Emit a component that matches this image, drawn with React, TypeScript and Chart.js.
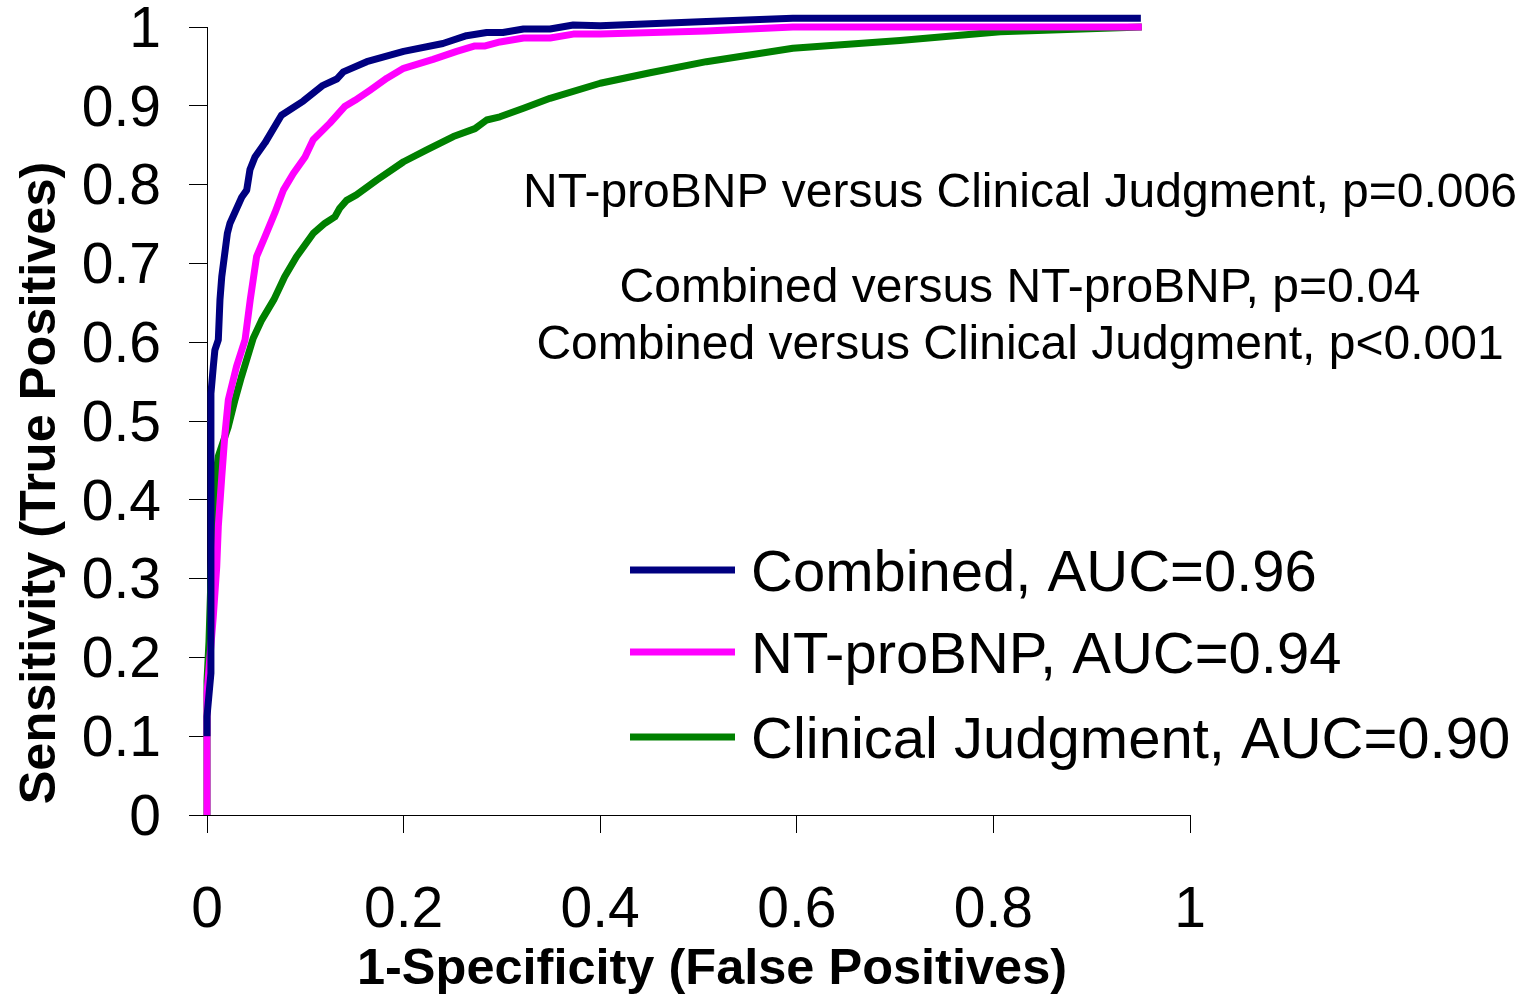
import React, { useEffect, useRef } from "react";
import { Chart, registerables } from "chart.js";

Chart.register(...registerables);

// ---- data ----
const seriesLabels = [
  "Combined, AUC=0.96",
  "NT-proBNP, AUC=0.94",
  "Clinical Judgment, AUC=0.90",
];
const seriesColors = ["#000080", "#FF00FF", "#008000"];

const combinedFpr = [0, 0, 0.004, 0.004, 0.0064, 0.008, 0.0115, 0.0132, 0.015, 0.0207, 0.0234, 0.0353, 0.0404, 0.0437, 0.0488, 0.059, 0.0757, 0.0979, 0.118, 0.132, 0.1387, 0.1625, 0.2, 0.24, 0.264, 0.2845, 0.301, 0.322, 0.349, 0.3726, 0.4, 0.508, 0.596, 0.95];
const combinedTpr = [0.1, 0.125, 0.18, 0.535, 0.569, 0.59, 0.603, 0.654, 0.683, 0.738, 0.751, 0.784, 0.793, 0.819, 0.835, 0.853, 0.888, 0.906, 0.926, 0.934, 0.943, 0.956, 0.969, 0.979, 0.989, 0.993, 0.993, 0.9975, 0.9975, 1.0025, 1.0017, 1.007, 1.011, 1.011];

const ntFpr = [0, 0, 0.0064, 0.0099, 0.0115, 0.015, 0.0183, 0.0217, 0.03, 0.0387, 0.044, 0.0505, 0.059, 0.069, 0.0777, 0.0878, 0.0997, 0.108, 0.125, 0.14, 0.1506, 0.166, 0.183, 0.2, 0.23, 0.254, 0.2726, 0.283, 0.298, 0.322, 0.349, 0.3726, 0.4, 0.508, 0.596, 0.951];
const ntTpr = [0, 0.155, 0.252, 0.315, 0.366, 0.429, 0.484, 0.527, 0.569, 0.603, 0.654, 0.709, 0.734, 0.764, 0.793, 0.814, 0.835, 0.857, 0.878, 0.899, 0.907, 0.92, 0.935, 0.9476, 0.959, 0.969, 0.976, 0.976, 0.981, 0.986, 0.986, 0.991, 0.991, 0.995, 1.0, 1.0];

const clinicalFpr = [0, 0, 0.002, 0.004, 0.006, 0.009, 0.0115, 0.0217, 0.0285, 0.035, 0.047, 0.0556, 0.068, 0.079, 0.091, 0.108, 0.12, 0.13, 0.135, 0.142, 0.152, 0.173, 0.2, 0.2235, 0.2506, 0.2726, 0.2845, 0.298, 0.322, 0.349, 0.4, 0.4507, 0.508, 0.596, 0.705, 0.807, 0.951];
const clinicalTpr = [0, 0.17, 0.22, 0.3, 0.38, 0.43, 0.455, 0.493, 0.527, 0.556, 0.605, 0.628, 0.654, 0.683, 0.7085, 0.738, 0.751, 0.759, 0.77, 0.78, 0.787, 0.806, 0.829, 0.844, 0.861, 0.871, 0.882, 0.886, 0.897, 0.9095, 0.9286, 0.942, 0.956, 0.973, 0.983, 0.994, 1.0];

const xTickLabels = ["0", "0.2", "0.4", "0.6", "0.8", "1"];
const yTickLabels = ["0", "0.1", "0.2", "0.3", "0.4", "0.5", "0.6", "0.7", "0.8", "0.9", "1"];
const xTitle = "1-Specificity (False Positives)";
const yTitle = "Sensitivity (True Positives)";
const annotations = [
  "NT-proBNP versus Clinical Judgment, p=0.006",
  "Combined versus NT-proBNP, p=0.04",
  "Combined versus Clinical Judgment, p<0.001",
];

const FONT = '"Liberation Sans", Arial, Helvetica, sans-serif';

const toPoints = (xs: number[], ys: number[]) => xs.map((x, i) => ({ x, y: ys[i] }));

const overlayPlugin = {
  id: "overlay",
  afterDraw(chart: any) {
    const ctx = chart.ctx as CanvasRenderingContext2D;
    const a = chart.chartArea;
    ctx.save();
    ctx.fillStyle = "#000";

    // axis titles
    ctx.font = `bold 50.5px ${FONT}`;
    ctx.textAlign = "center";
    ctx.textBaseline = "alphabetic";
    ctx.fillText(xTitle, a.left + 505, a.bottom + 169);

    ctx.save();
    ctx.translate(55, a.top + 456);
    ctx.rotate(-Math.PI / 2);
    ctx.fillText(yTitle, 0, 0);
    ctx.restore();

    // annotations
    ctx.font = `48px ${FONT}`;
    ctx.textAlign = "center";
    const annY = [a.top + 180, a.top + 275, a.top + 332];
    annotations.forEach((t, i) => ctx.fillText(t, a.left + 813, annY[i]));

    // legend
    ctx.font = `58px ${FONT}`;
    ctx.textAlign = "left";
    const rowY = [570, 652, 737];
    chart.data.datasets.forEach((ds: any, i: number) => {
      const y = rowY[i];
      ctx.strokeStyle = ds.borderColor;
      ctx.lineWidth = 7;
      ctx.lineCap = "butt";
      ctx.beginPath();
      ctx.moveTo(630, y);
      ctx.lineTo(735, y);
      ctx.stroke();
      ctx.fillText(ds.label, 751, y + 21);
    });
    ctx.restore();
  },
};

export default function App() {
  const ref = useRef<HTMLCanvasElement>(null);

  useEffect(() => {
    if (!ref.current) return;
    const series = [
      [combinedFpr, combinedTpr],
      [ntFpr, ntTpr],
      [clinicalFpr, clinicalTpr],
    ];
    const chart = new Chart(ref.current, {
      type: "line",
      data: {
        datasets: series.map(([xs, ys], i) => ({
          label: seriesLabels[i],
          data: toPoints(xs, ys),
          borderColor: seriesColors[i],
          backgroundColor: seriesColors[i],
          borderWidth: 7,
          pointRadius: 0,
          tension: 0,
          fill: false,
          clip: false as any,
          borderJoinStyle: "round" as const,
        })),
      },
      options: {
        animation: false,
        responsive: false,
        maintainAspectRatio: false,
        layout: { padding: { left: 0, right: 347, top: 27, bottom: 0 } },
        plugins: {
          legend: { display: false },
          tooltip: { enabled: false },
          title: { display: false },
        },
        scales: {
          x: {
            type: "linear",
            min: 0,
            max: 1,
            afterFit: (s: any) => {
              s.height = 180;
              s.paddingLeft = 0;
              s.paddingRight = 0;
            },
            ticks: {
              stepSize: 0.2,
              padding: 50,
              color: "#000",
              font: { family: FONT, size: 57, lineHeight: 1 },
              maxRotation: 0,
              callback: (_v: any, i: number) => xTickLabels[i],
            },
            grid: {
              drawOnChartArea: false,
              drawTicks: true,
              tickLength: 18,
              color: "#000",
              lineWidth: 1,
            },
            border: { display: true, color: "#000", width: 1 },
          },
          y: {
            type: "linear",
            min: 0,
            max: 1,
            afterFit: (s: any) => {
              s.width = 207;
              s.paddingTop = 0;
              s.paddingBottom = 0;
            },
            ticks: {
              stepSize: 0.1,
              padding: 28,
              labelOffset: 4,
              color: "#000",
              font: { family: FONT, size: 57, lineHeight: 1 },
              callback: (_v: any, i: number) => yTickLabels[i],
            },
            grid: {
              drawOnChartArea: false,
              drawTicks: true,
              tickLength: 18,
              color: "#000",
              lineWidth: 1,
            },
            border: { display: true, color: "#000", width: 1 },
          },
        },
      },
      plugins: [overlayPlugin],
    });
    return () => chart.destroy();
  }, []);

  return (
    <div style={{ position: "fixed", left: 0, top: 0, width: 1537, height: 995, background: "#fff" }}>
      <canvas ref={ref} width={1537} height={995} style={{ width: 1537, height: 995, display: "block" }} />
    </div>
  );
}
